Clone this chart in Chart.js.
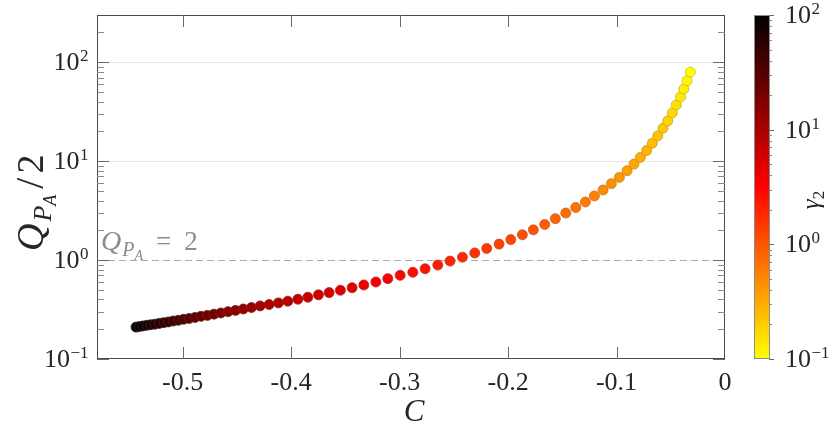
<!DOCTYPE html>
<html><head><meta charset="utf-8">
<script src="https://cdn.jsdelivr.net/npm/chart.js@4/dist/chart.umd.min.js"></script>
<style>html,body{margin:0;padding:0;background:#fff;}#wrap{width:830px;height:428px;position:relative;}</style>
</head><body><div id="wrap"><canvas id="c" width="830" height="428"></canvas></div>
<script>
// ---- data ----
const cValues = [
-0.5430,-0.5398,-0.5365,-0.5330,-0.5294,-0.5256,-0.5216,-0.5175,-0.5132,-0.5087,
-0.5040,-0.4991,-0.4940,-0.4886,-0.4831,-0.4772,-0.4712,-0.4648,-0.4582,-0.4513,
-0.4441,-0.4366,-0.4286,-0.4203,-0.4117,-0.4031,-0.3938,-0.3846,-0.3748,-0.3650,
-0.3546,-0.3438,-0.3330,-0.3219,-0.3109,-0.2995,-0.2878,-0.2765,-0.2648,-0.2535,
-0.2421,-0.2307,-0.2197,-0.2083,-0.1975,-0.1868,-0.1767,-0.1662,-0.1564,-0.1468,
-0.1376,-0.1287,-0.1204,-0.1124,-0.1048,-0.0974,-0.0903,-0.0839,-0.0780,-0.0722,
-0.0670,-0.0620,-0.0571,-0.0528,-0.0486,-0.0449,-0.0410,-0.0380,-0.0350,-0.0320];
const qValues = [
0.210,0.213,0.216,0.219,0.222,0.225,0.229,0.233,0.237,0.242,
0.246,0.252,0.257,0.263,0.270,0.276,0.284,0.292,0.301,0.310,
0.320,0.331,0.344,0.355,0.369,0.384,0.402,0.421,0.445,0.469,
0.495,0.526,0.560,0.600,0.649,0.701,0.752,0.817,0.891,0.977,
1.07,1.18,1.31,1.45,1.61,1.80,2.02,2.29,2.62,2.99,
3.40,3.86,4.45,5.11,5.92,6.85,8.00,9.33,10.9,12.8,
15.2,18.0,21.5,25.5,30.7,37.0,44.5,53.6,65.0,79.4];
const gammaValues = [
100,90.47,81.85,74.05,67.00,60.61,54.84,49.62,44.89,40.62,
36.75,33.25,30.08,27.22,24.62,22.28,20.16,18.24,16.50,14.93,
13.51,12.22,11.05,10.00,9.047,8.185,7.405,6.700,6.061,5.484,
4.962,4.489,4.062,3.675,3.325,3.008,2.722,2.462,2.228,2.016,
1.824,1.650,1.493,1.351,1.222,1.105,1.000,0.9047,0.8185,0.7405,
0.6700,0.6061,0.5484,0.4962,0.4489,0.4062,0.3675,0.3325,0.3008,0.2722,
0.2462,0.2228,0.2016,0.1824,0.1650,0.1493,0.1351,0.1222,0.1105,0.1000];
const xTicks = [-0.5,-0.4,-0.3,-0.2,-0.1,0];
const yTicks = [0.1,1,10,100];
const cbTicks = [0.1,1,10,100];
const refLineQ = 1;
const xRange = [-0.579,0];
const yRange = [0.1,300];
const cbRange = [0.1,100];

// ---- styling helpers ----
const SERIF = "'Liberation Serif','DejaVu Serif',serif";
const AX = '#262626';
function hot(g){
  const l1=Math.log10(cbRange[1]), l0=Math.log10(cbRange[0]);
  let s=(l1-Math.log10(g))/(l1-l0); s=Math.min(1,Math.max(0,s));
  const t=0.75*s;
  const r=Math.min(1,t/0.375), gg=Math.min(1,Math.max(0,(t-0.375)/0.375));
  return [Math.round(r*255),Math.round(gg*255),0];
}
const rgb=a=>`rgb(${a[0]},${a[1]},${a[2]})`;
const edge=a=>rgb(a.map(v=>Math.round(v*0.62+95*0.38)));

function minorVals(lo,hi){const out=[];for(let e=-2;e<=3;e++){for(let m=2;m<=9;m++){const v=m*Math.pow(10,e);if(v>lo&&v<hi)out.push(v);}}return out;}

function drawPow(ctx,exp,x,yb,align,size,esize,color){
  ctx.fillStyle=color; ctx.textBaseline='alphabetic';
  const es = exp<0 ? '\u2212'+(-exp) : ''+exp;
  ctx.font=`${size}px ${SERIF}`; const w1=ctx.measureText('10').width;
  ctx.font=`${esize}px ${SERIF}`; const w2=ctx.measureText(es).width;
  let x0 = align==='right' ? x-w1-w2 : x;
  ctx.textAlign='left';
  ctx.font=`${size}px ${SERIF}`; ctx.fillText('10',x0,yb);
  ctx.font=`${esize}px ${SERIF}`; ctx.fillText(es,x0+w1+0.5,yb-9);
}
function drawRich(ctx,pieces,x,y,color){
  ctx.fillStyle=color; ctx.textAlign='left'; ctx.textBaseline='alphabetic';
  let cx=x;
  for(const p of pieces){
    ctx.font=`${p.italic?'italic ':''}${p.size}px ${SERIF}`;
    ctx.fillText(p.t,cx+(p.dx||0),y+(p.dy||0));
    cx+=ctx.measureText(p.t).width+(p.dx||0)+(p.gap||0);
  }
  return cx-x;
}
function richWidth(ctx,pieces){let w=0;for(const p of pieces){ctx.font=`${p.italic?'italic ':''}${p.size}px ${SERIF}`;w+=ctx.measureText(p.t).width+(p.dx||0)+(p.gap||0);}return w;}

const decor = {
  id:'decor',
  beforeDatasetsDraw(chart){
    const {ctx,chartArea:a,scales:{y}}=chart;
    const py=Math.round(y.getPixelForValue(refLineQ))+0.5;
    ctx.save(); ctx.strokeStyle='#ababab'; ctx.lineWidth=1; ctx.setLineDash([7,4]);
    ctx.beginPath(); ctx.moveTo(a.left,py); ctx.lineTo(a.right,py); ctx.stroke(); ctx.restore();
  },
  afterDatasetsDraw(chart){
    const {ctx,chartArea:a,scales:{x,y,cb}}=chart;
    ctx.save();
    ctx.strokeStyle='#4a4a4a'; ctx.lineWidth=1;
    ctx.strokeRect(a.left+0.5,a.top+0.5,a.right-a.left-1,a.bottom-a.top-1);
    ctx.strokeStyle='#6a6a6a';
    const line=(x1,y1,x2,y2)=>{ctx.beginPath();ctx.moveTo(x1,y1);ctx.lineTo(x2,y2);ctx.stroke();};
    for(const v of xTicks){const px=Math.round(x.getPixelForValue(v))+0.5; if(px>a.right-2) continue; line(px,a.bottom,px,a.bottom-12); line(px,a.top,px,a.top+12);}
    for(const v of yTicks){const py=Math.round(y.getPixelForValue(v))+0.5; line(a.left,py,a.left+12,py); line(a.right,py,a.right-12,py);}
    ctx.strokeStyle='#8a8a8a';
    for(const v of minorVals(yRange[0],yRange[1])){const py=Math.round(y.getPixelForValue(v))+0.5; line(a.left,py,a.left+7,py); line(a.right,py,a.right-7,py);}
    // colorbar
    const cbL=754, cbR=770;
    const t=cb.getPixelForValue(cbRange[1]), b=cb.getPixelForValue(cbRange[0]);
    const grad=ctx.createLinearGradient(0,t,0,b);
    for(let i=0;i<=60;i++){const f=i/60; const g=Math.pow(10,Math.log10(cbRange[1])-f*(Math.log10(cbRange[1])-Math.log10(cbRange[0]))); grad.addColorStop(f,rgb(hot(g)));}
    ctx.fillStyle=grad; ctx.fillRect(cbL,t,cbR-cbL,b-t);
    ctx.strokeStyle='#8c8c8c'; ctx.strokeRect(cbL+0.5,t+0.5,cbR-cbL-1,b-t-1);
    ctx.strokeStyle='#6a6a6a';
    for(const v of cbTicks){const py=Math.round(cb.getPixelForValue(v))+0.5; line(cbR-1,py,cbR+4,py);}
    ctx.strokeStyle='#8a8a8a';
    for(const v of minorVals(cbRange[0],cbRange[1])){const py=Math.round(cb.getPixelForValue(v))+0.5; line(cbR-1,py,cbR+2,py);}
    // y tick labels
    for(const v of yTicks){const py=y.getPixelForValue(v); const e=Math.round(Math.log10(v)); drawPow(ctx,e,88,py+8,'right',26,17,AX);}
    for(const v of cbTicks){const py=cb.getPixelForValue(v); const e=Math.round(Math.log10(v)); drawPow(ctx,e,785,py+8,'left',26,17,AX);}
    // annotation  Q_{P_A} = 2
    drawRich(ctx,[{t:'Q',size:28,italic:true,gap:1},{t:'P',size:20,italic:true,dy:6},{t:'A',size:14,italic:true,dy:10,gap:13},{t:'=',size:27,gap:13},{t:'2',size:27}],101,250,'#8c8c8c');
    // x title
    ctx.fillStyle=AX; ctx.font=`italic 31px ${SERIF}`; ctx.textAlign='center'; ctx.textBaseline='alphabetic';
    ctx.fillText('C',(a.left+a.right)/2+3,421);
    // y title (reads bottom to top, starts at screen y 251)
    const yt=[{t:'Q',size:38,italic:true,gap:2},{t:'P',size:26,italic:true,dy:8},{t:'A',size:18,italic:true,dy:13,gap:6},{t:'/',size:40,gap:4},{t:'2',size:38}];
    ctx.save(); ctx.translate(43,251); ctx.rotate(-Math.PI/2);
    drawRich(ctx,yt,0,0,AX); ctx.restore();
    // colorbar title
    const ct=[{t:'\u03B3',size:25,italic:true},{t:'2',size:17,dy:5}];
    const cw=richWidth(ctx,ct);
    ctx.save(); ctx.translate(819,200); ctx.rotate(-Math.PI/2);
    drawRich(ctx,ct,-cw/2,0,AX); ctx.restore();
    ctx.restore();
  }
};

const pts = cValues.map((c,i)=>({x:c,y:qValues[i]}));
new Chart(document.getElementById('c'),{
  type:'scatter',
  data:{datasets:[{data:pts,pointRadius:5,pointHoverRadius:5,pointBorderWidth:0.8,
    pointBackgroundColor:ctx=>rgb(hot(gammaValues[ctx.dataIndex])),
    pointBorderColor:ctx=>edge(hot(gammaValues[ctx.dataIndex]))}]},
  options:{
    responsive:false,animation:false,
    layout:{padding:{left:0,top:15,right:105,bottom:0}},
    plugins:{legend:{display:false},tooltip:{enabled:false}},
    scales:{
      x:{type:'linear',min:xRange[0],max:xRange[1],
        afterBuildTicks:s=>{s.ticks=xTicks.map(v=>({value:v}));},
        afterFit:s=>{s.height=69;},
        grid:{display:false,drawTicks:false},border:{display:false},
        ticks:{padding:9,color:AX,font:{family:SERIF,size:26},maxRotation:0,
          callback:v=>v===0?'0':Number(v).toFixed(1)}},
      y:{type:'logarithmic',min:yRange[0],max:yRange[1],
        afterBuildTicks:s=>{s.ticks=yTicks.map(v=>({value:v}));},
        afterFit:s=>{s.width=97;},
        grid:{drawTicks:false,lineWidth:1,color:c=>(c.tick&&(c.tick.value===10||c.tick.value===100))?'#e8e8e8':'rgba(0,0,0,0)'},
        border:{display:false},
        ticks:{display:false}},
      cb:{type:'logarithmic',position:'right',display:false,min:cbRange[0],max:cbRange[1]}
    }
  },
  plugins:[decor]
});
</script></body></html>
